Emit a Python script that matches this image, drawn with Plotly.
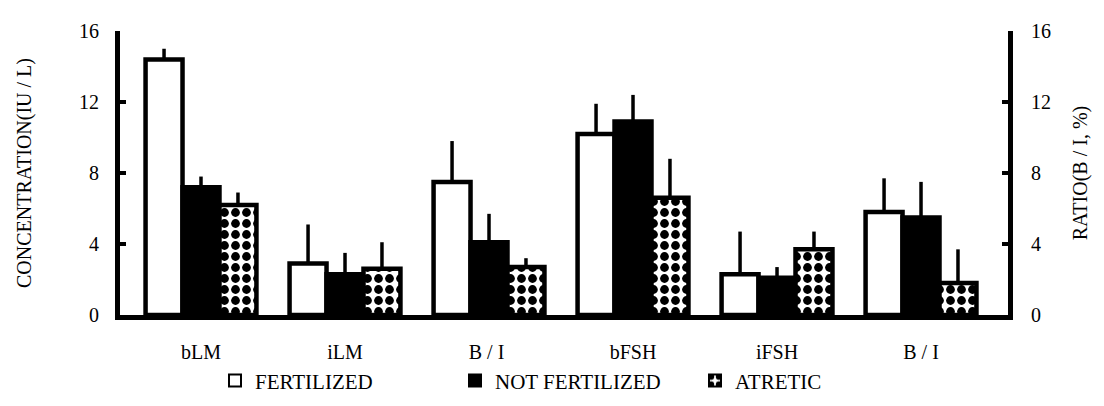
import plotly.graph_objects as go

categories = ["bLM", "iLM", "B / I ", "bFSH", "iFSH", "B / I"]
fertilized = [14.4, 2.9, 7.5, 10.2, 2.3, 5.8]
fertilized_err_top = [15.0, 5.1, 9.8, 11.9, 4.7, 7.7]
not_fertilized = [7.2, 2.3, 4.1, 10.9, 2.1, 5.5]
not_fertilized_err_top = [7.8, 3.5, 5.7, 12.4, 2.7, 7.5]
atretic = [6.2, 2.6, 2.7, 6.6, 3.7, 1.8]
atretic_err_top = [6.9, 4.1, 3.2, 8.8, 4.7, 3.7]
y_ticks = [0, 4, 8, 12, 16]

FONT = "Liberation Serif"

def up_err(vals, tops):
    return dict(type="data", symmetric=False,
                array=[t - v for v, t in zip(vals, tops)],
                arrayminus=[0] * len(vals),
                color="black", thickness=3.5, width=0)

fig = go.Figure()
fig.add_trace(go.Bar(
    name="FERTILIZED", x=categories, y=fertilized,
    marker=dict(color="white", line=dict(color="black", width=4.5)),
    error_y=up_err(fertilized, fertilized_err_top)))
fig.add_trace(go.Bar(
    name="NOT FERTILIZED", x=categories, y=not_fertilized,
    marker=dict(color="black", line=dict(color="black", width=4.5)),
    error_y=up_err(not_fertilized, not_fertilized_err_top)))
fig.add_trace(go.Bar(
    name="ATRETIC", x=categories, y=atretic,
    marker=dict(color="white", line=dict(color="black", width=4.5),
                pattern=dict(shape=".", fgcolor="black", bgcolor="white",
                             size=11, solidity=0.5, fillmode="replace")),
    error_y=up_err(atretic, atretic_err_top)))
# invisible helper to activate the right axis
fig.add_trace(go.Scatter(x=[categories[0]], y=[0], yaxis="y2", mode="markers",
                         marker=dict(opacity=0), showlegend=False, hoverinfo="skip"))

fig.update_layout(
    width=1104, height=406,
    margin=dict(l=112, r=104, t=12, b=83),
    paper_bgcolor="white", plot_bgcolor="white",
    barmode="group", bargap=0.23, bargroupgap=0,
    font=dict(family=FONT, size=20, color="black"),
    showlegend=True,
    legend=dict(orientation="h", x=0.107, xanchor="left", y=-0.16, yanchor="top",
                font=dict(family="serif", size=21, color="black"),
                entrywidth=195, entrywidthmode="pixels",
                itemsizing="constant", traceorder="normal"),
    xaxis=dict(range=[-0.5625, 5.604], showline=True, linecolor="black", linewidth=5,
               ticks="", ticklabelstandoff=15, showgrid=False, zeroline=False,
               tickfont=dict(family=FONT, size=20, color="black")),
    yaxis=dict(range=[0, 16], tickvals=y_ticks, showline=True, linecolor="black",
               linewidth=5, ticks="inside", ticklen=6, tickwidth=4, tickcolor="black",
               showgrid=False, zeroline=False, ticklabelstandoff=12,
               tickfont=dict(family=FONT, size=20, color="black"),
               title=dict(text="CONCENTRATION(IU / L)", standoff=44,
                          font=dict(family="serif", size=20, color="black"))),
    yaxis2=dict(range=[0, 16], tickvals=y_ticks, overlaying="y", side="right",
                showline=True, linecolor="black", linewidth=5, ticks="inside",
                ticklen=6, tickwidth=4, tickcolor="black", showgrid=False,
                zeroline=False, ticklabelstandoff=14,
                tickfont=dict(family=FONT, size=20, color="black"),
                title=dict(text="RATIO(B / I, %)", standoff=24,
                           font=dict(family="serif", size=20, color="black"))),
)

fig.write_html("out.html")
